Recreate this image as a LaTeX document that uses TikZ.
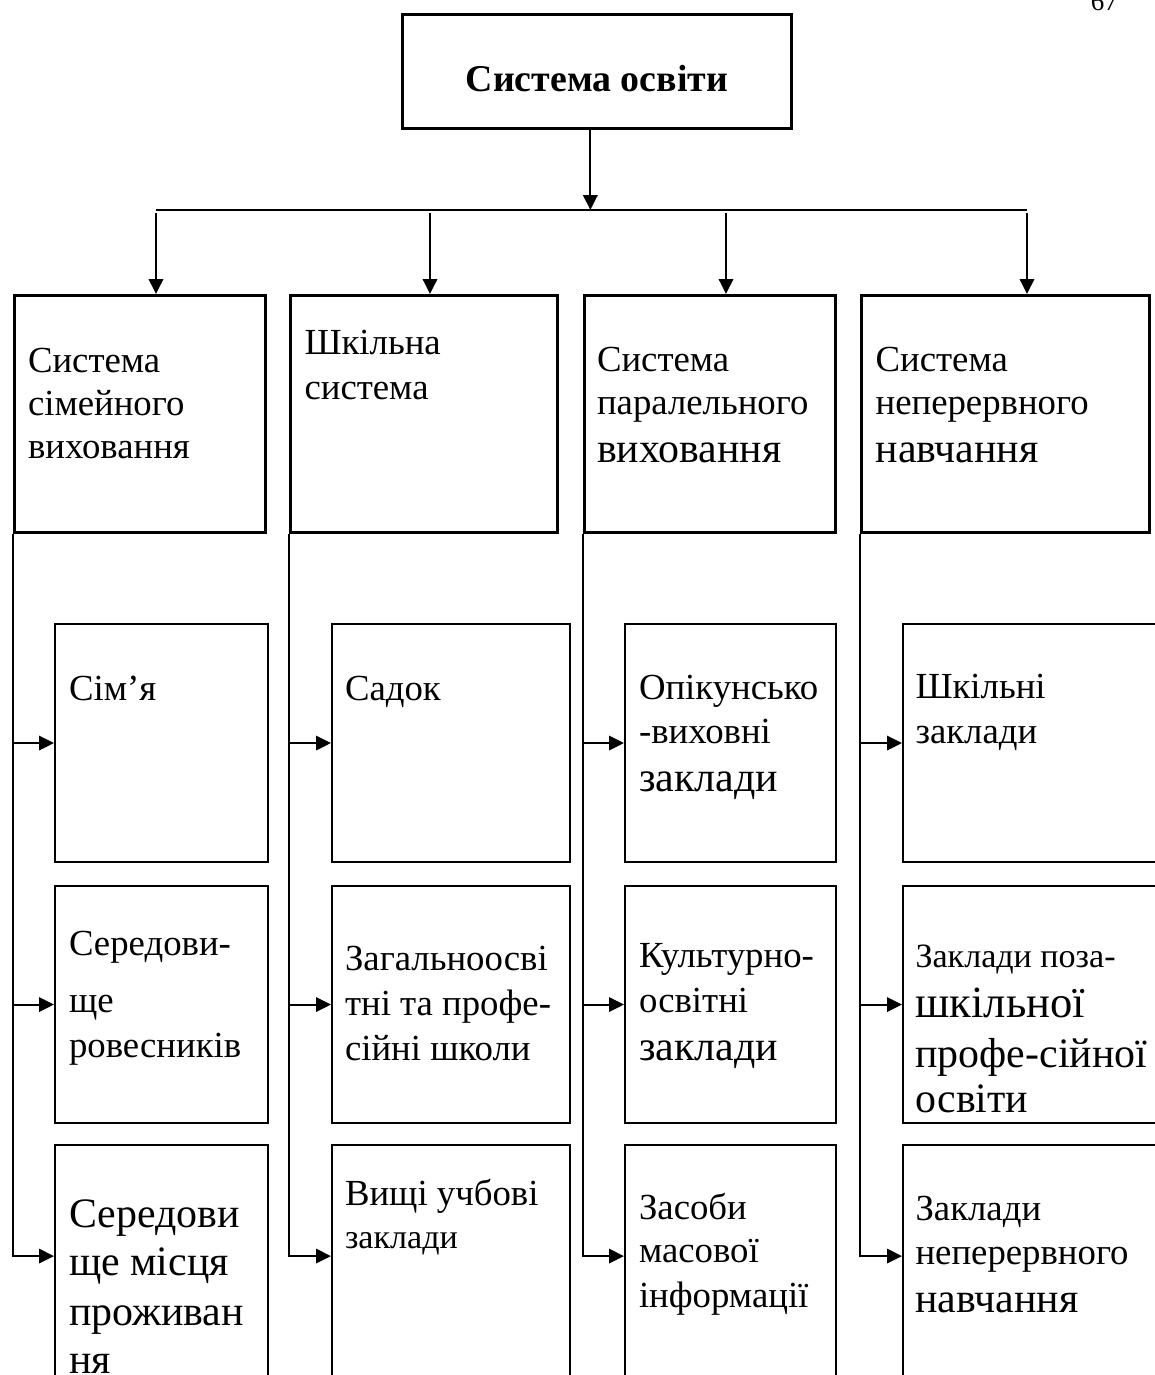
\documentclass[tikz,border=0pt]{standalone}
\usepackage{fontspec}
\setmainfont{Liberation Serif}
\usetikzlibrary{arrows.meta,positioning}

\newcommand{\pxu}{0.013cm}
\newcommand{\normtxt}{\fontsize{13.6}{15.9}\selectfont}
\newcommand{\bigtxt}{\fontsize{15.5}{15.9}\selectfont}
\newcommand{\smalltxt}{\fontsize{12.6}{15.9}\selectfont}

\begin{document}
\begin{tikzpicture}[x=\pxu,y=-\pxu,>={Triangle[length=5.5pt,width=5.3pt]},
                    line width=0.75pt]
  \tikzstyle{colbox}=[draw,line width=1pt,anchor=north west,inner sep=0pt,minimum height=237*\pxu]
  \tikzstyle{subbox}=[draw,anchor=north west,inner sep=0pt,minimum height=237*\pxu]
  \tikzstyle{txt}=[anchor=base west,align=left,inner sep=0pt,font=\normtxt]

  \useasboundingbox (0,0) rectangle (1154,1375);

  \node[anchor=base east,inner sep=0pt,font=\fontsize{10}{12}\selectfont] (pnum) at (1119,10) {67};

  % top
  \node[colbox,minimum width=389*\pxu,minimum height=114*\pxu,font=\fontsize{14}{16}\selectfont\bfseries,
        text height=14.8pt,text depth=0pt] (title) at (401,13) {Система освіти};

  % columns
  \node[colbox,minimum width=251*\pxu] (fam)  at (13,294)  {};
  \node[colbox,minimum width=267*\pxu] (sch)  at (289,294) {};
  \node[colbox,minimum width=251*\pxu] (par)  at (583,294) {};
  \node[colbox,minimum width=288*\pxu] (cont) at (860,294) {};

  \node[txt] (fam-t)  at ([shift={(14,164)}]fam.north west)    {Система\\сімейного\\виховання};
  \node[txt] (sch-t)  at ([shift={(14.5,105)}]sch.north west)  {Шкільна\\[0.7pt]система};
  \node[txt] (par-t)  at ([shift={(13,168)}]par.north west)    {Система\\паралельного\\[1.5pt]{\bigtxt виховання}};
  \node[txt] (cont-t) at ([shift={(14.6,168)}]cont.north west) {Система\\неперервного\\[1.5pt]{\bigtxt навчання}};

  % row 1
  \node[subbox,minimum width=213*\pxu,minimum height=238*\pxu] (sim)  at (54,623)  {};
  \node[subbox,minimum width=238*\pxu,minimum height=238*\pxu] (sad)  at (331,623) {};
  \node[subbox,minimum width=211*\pxu,minimum height=238*\pxu] (opik) at (624,623) {};
  \node[subbox,minimum width=268*\pxu,minimum height=238*\pxu] (shk)  at (902,623) {};

  \node[txt] (sim-t)  at ([shift={(14,77)}]sim.north west)    {Сім’я};
  \node[txt] (sad-t)  at ([shift={(13,77)}]sad.north west)    {Садок};
  \node[txt] (opik-t) at ([shift={(14,168)}]opik.north west)  {Опікунсько\\[0.4pt]-виховні\\[1.8pt]{\bigtxt заклади}};
  \node[txt] (shk-t)  at ([shift={(12.5,120)}]shk.north west) {Шкільні\\[0.4pt]заклади};

  % row 2
  \node[subbox,minimum width=213*\pxu] (ser)  at (54,885)  {};
  \node[subbox,minimum width=238*\pxu] (zag)  at (331,885) {};
  \node[subbox,minimum width=211*\pxu] (kult) at (624,885) {};
  \node[subbox,minimum width=268*\pxu] (poza) at (902,885) {};

  \node[txt] (ser-t)  at ([shift={(14,172)}]ser.north west)   {Середови-\\[5.2pt]ще\\[0.7pt]ровесників};
  \node[txt] (zag-t)  at ([shift={(13,175)}]zag.north west)   {Загальноосві\\[0.7pt]тні та профе-\\[0.7pt]сійні школи};
  \node[txt] (kult-t) at ([shift={(14,175)}]kult.north west)  {Культурно-\\[0.7pt]освітні\\[1.8pt]{\bigtxt заклади}};
  \node[txt] (poza-t) at ([shift={(12.5,227)}]poza.north west)
    {{\smalltxt Заклади поза-}\\[2.6pt]{\fontsize{16.5}{15.9}\selectfont шкільної}\\[2.6pt]{\bigtxt профе-сійної}\\[0.7pt]{\bigtxt освіти}};

  % row 3
  \node[subbox,minimum width=213*\pxu,minimum height=240*\pxu] (mis) at (54,1144)  {};
  \node[subbox,minimum width=238*\pxu,minimum height=240*\pxu] (vys) at (331,1144) {};
  \node[subbox,minimum width=211*\pxu,minimum height=240*\pxu] (zmi) at (624,1144) {};
  \node[subbox,minimum width=268*\pxu,minimum height=240*\pxu] (nep) at (902,1144) {};

  \node[txt,font=\bigtxt] (mis-t) at ([shift={(14,229)}]mis.north west) {Середови\\[1.8pt]ще місця\\[2.6pt]проживан\\[1.8pt]ня};
  \node[txt] (vys-t) at ([shift={(13,104)}]vys.north west)   {Вищі учбові\\{\smalltxt заклади}};
  \node[txt] (zmi-t) at ([shift={(14,163)}]zmi.north west)   {Засоби\\масової\\[0.4pt]інформації};
  \node[txt] (nep-t) at ([shift={(12.5,168)}]nep.north west) {Заклади\\[0.7pt]неперервного\\[1.5pt]{\bigtxt навчання}};

  % connectors
  \draw[->] ([xshift=-2.4pt]title.south) -- ([xshift=-2.4pt]title.south |- 0,210);
  \foreach \bx/\col in {156/fam,430/sch,726/par,1027/cont}{
    \coordinate (bus-\col) at (\bx,210);
    \draw[->,shorten <=1.1pt] (bus-\col) -- (bus-\col |- \col.north);
  }
  \draw (bus-fam) -- (bus-cont);

  \foreach \col/\ra/\rb/\rc in {fam/sim/ser/mis,sch/sad/zag/vys,par/opik/kult/zmi,cont/shk/poza/nep}{
    \draw[->] (\col.south west) |- ([yshift=3.3pt]\rc.west);
    \draw[->] (\col.south west |- \ra.west) -- (\ra.west);
    \draw[->] (\col.south west |- \rb.west) -- (\rb.west);
  }
\end{tikzpicture}
\end{document}
